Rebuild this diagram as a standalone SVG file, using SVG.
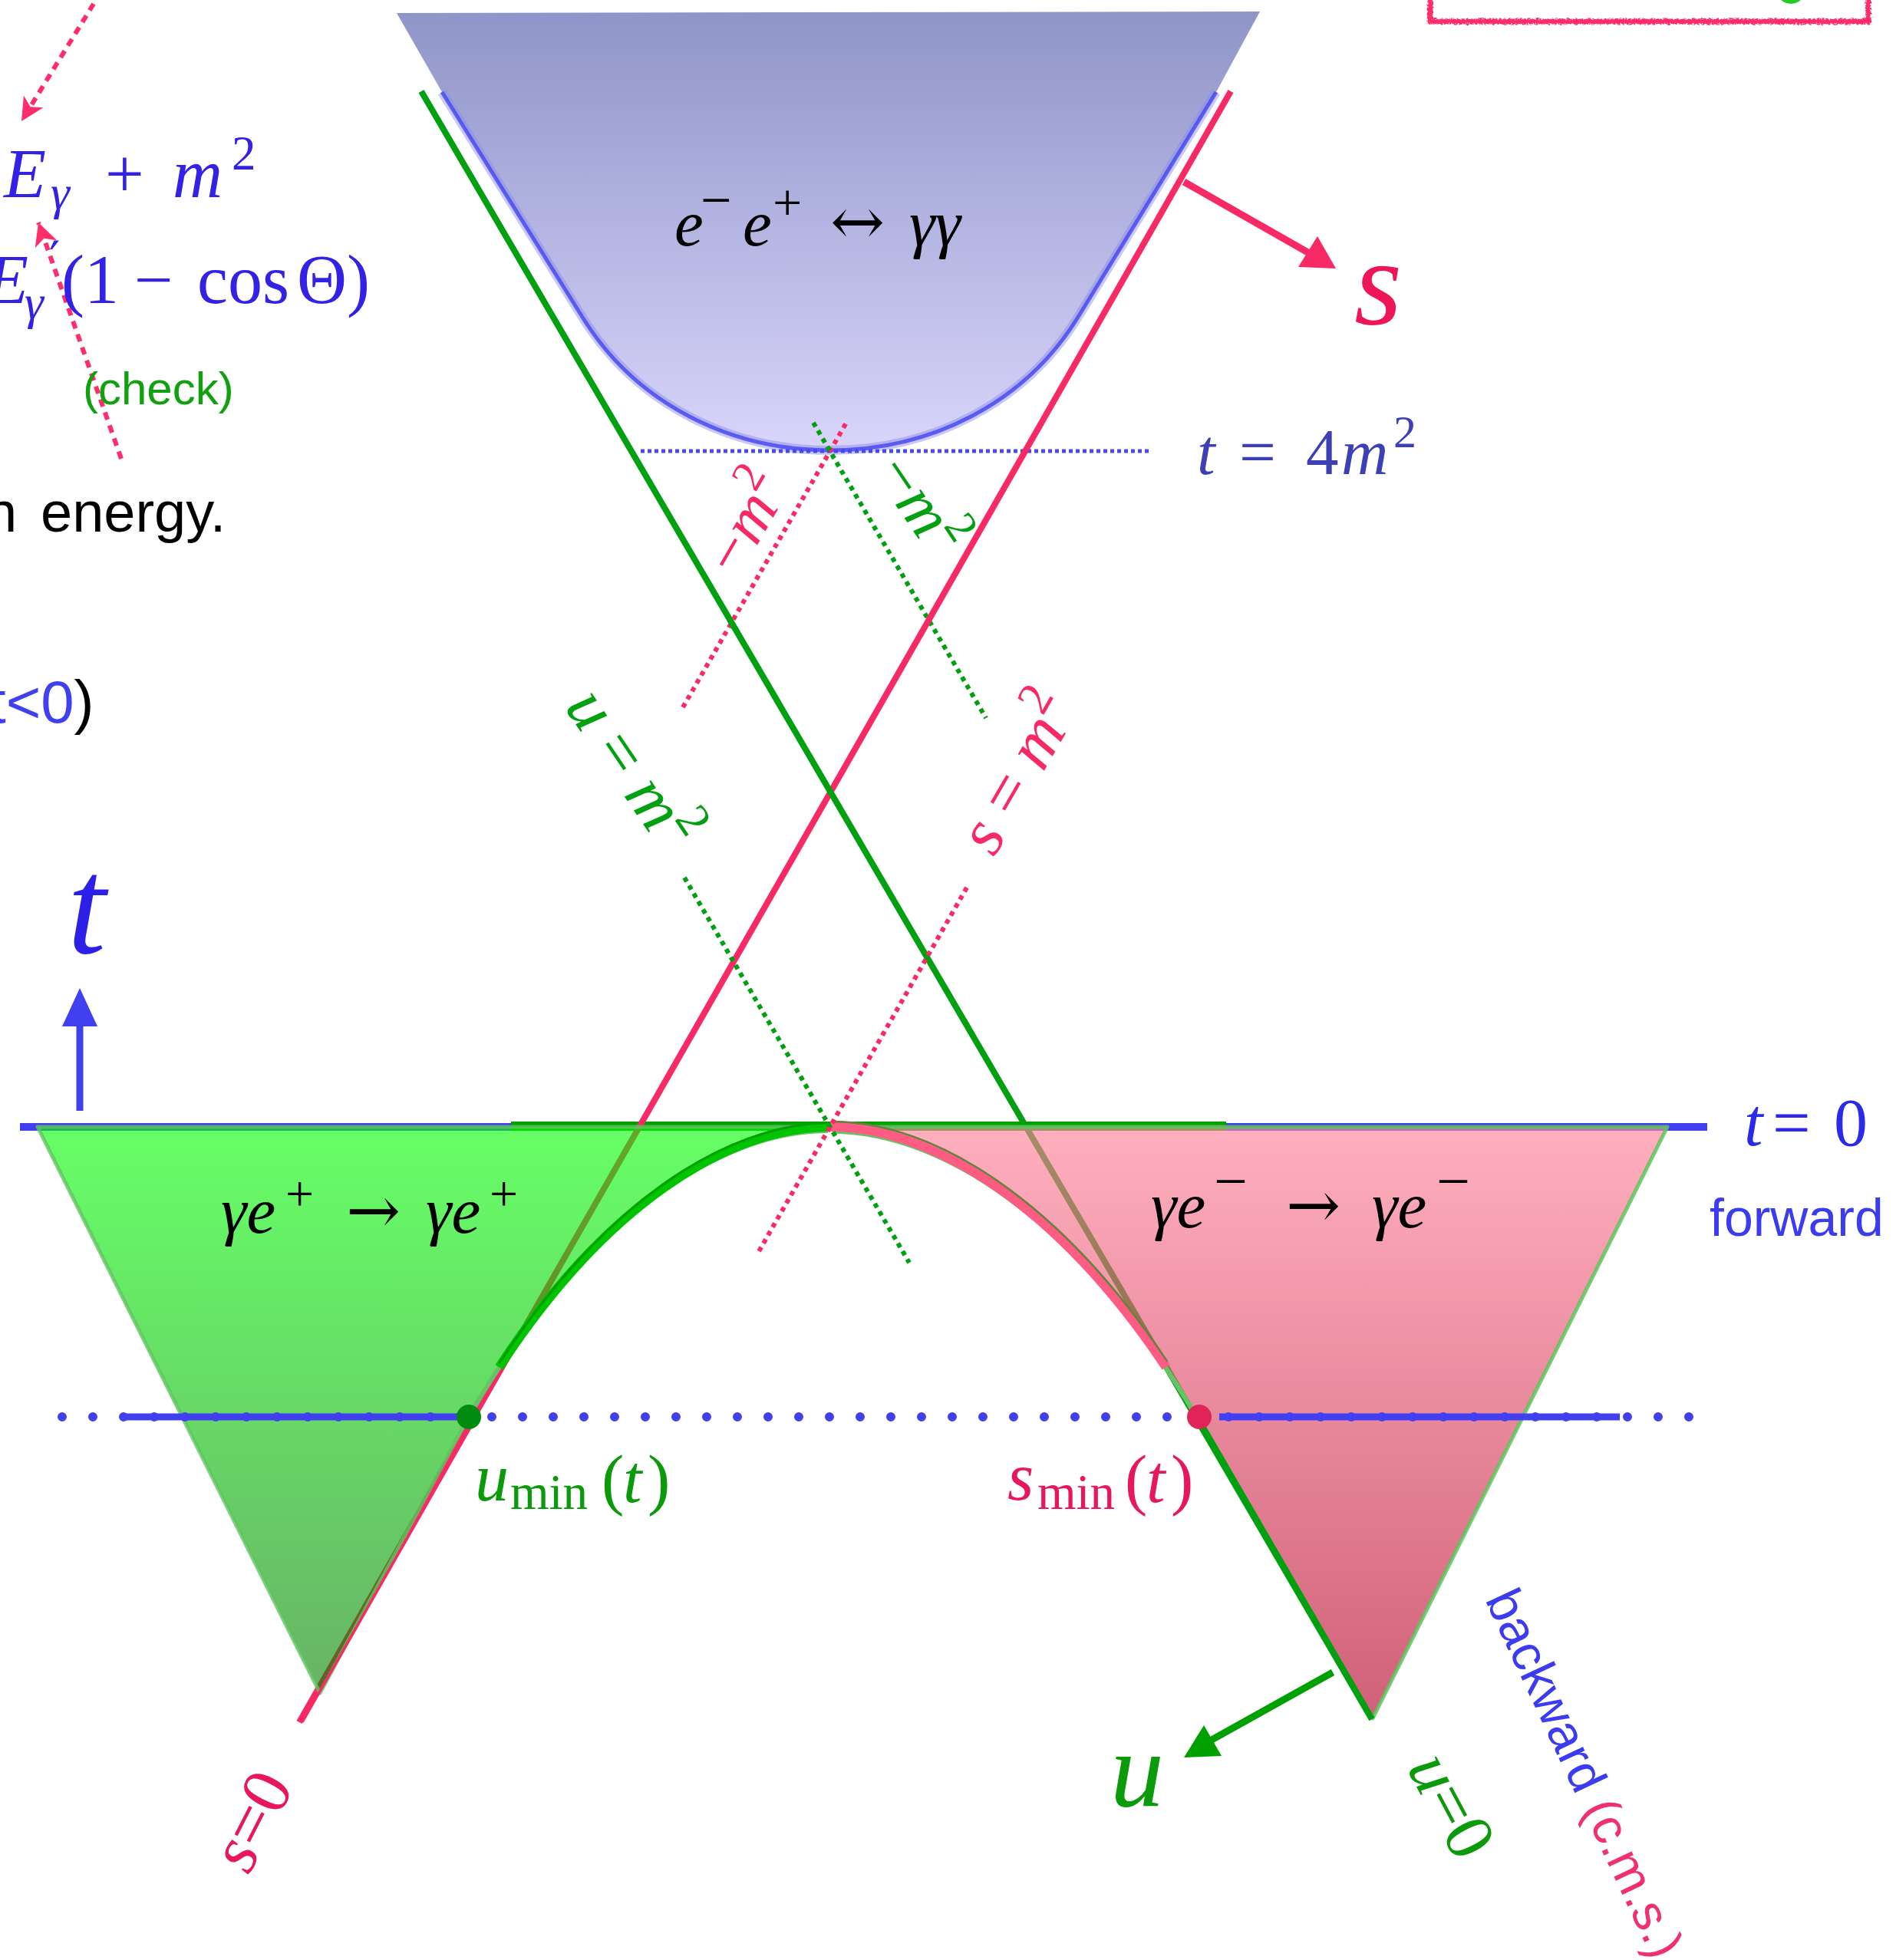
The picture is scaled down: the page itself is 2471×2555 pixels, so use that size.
<svg xmlns="http://www.w3.org/2000/svg" width="2471" height="2555" viewBox="0 0 2471 2555">
<defs>
<style>
.m{font-family:"Liberation Serif","DejaVu Serif",serif;font-style:italic}
.r{font-style:normal}
.ar{font-family:"DejaVu Serif","Liberation Serif",serif;font-style:normal}
.sans{font-family:"Liberation Sans",Arial,sans-serif}
.redl{stroke:#f72a66;fill:none}
.grnl{stroke:#00a010;fill:none}
.rdot{stroke:#f72a66;stroke-width:6;stroke-dasharray:6 6;fill:none}
.gdot{stroke:#00a010;stroke-width:6;stroke-dasharray:6 6;fill:none}
</style>
<linearGradient id="gBlue" gradientUnits="userSpaceOnUse" x1="0" y1="15" x2="0" y2="587">
<stop offset="0" stop-color="#8f95c8"/><stop offset="1" stop-color="#d9d5fb"/>
</linearGradient>
<linearGradient id="gGreen" gradientUnits="userSpaceOnUse" x1="0" y1="1469" x2="0" y2="2207">
<stop offset="0" stop-color="#00ff00"/><stop offset="1" stop-color="#038000"/>
</linearGradient>
<linearGradient id="gPink" gradientUnits="userSpaceOnUse" x1="0" y1="1469" x2="0" y2="2240">
<stop offset="0" stop-color="#ff849b"/><stop offset="1" stop-color="#b70b30"/>
</linearGradient>
<marker id="rarr" markerUnits="userSpaceOnUse" markerWidth="34" markerHeight="30" refX="30" refY="15" orient="auto">
<path d="M0,0 L30,15 L0,30 L8,15 Z" fill="#ff2d6b"/>
</marker>
<filter id="rough" x="-5%" y="-60%" width="110%" height="220%">
<feTurbulence type="fractalNoise" baseFrequency="0.35" numOctaves="2" seed="3" result="n"/>
<feDisplacementMap in="SourceGraphic" in2="n" scale="6" xChannelSelector="R" yChannelSelector="G"/>
</filter>
</defs>
<rect width="2471" height="2555" fill="#ffffff"/>

<g id="note-box">
<circle cx="2334" cy="-14" r="19" fill="#22cc22"/>
<rect x="1864" y="-20" width="571" height="48" fill="none" stroke="#ff2d6b" stroke-width="7" filter="url(#rough)"/>
</g>

<g id="region-annihilation">
<path d="M517,17 L1642,15 L1585,120 L1404,415 C1334,527 1212,587 1082,587 C952,587 830,527 760,415 L576,120 Z" fill="url(#gBlue)"/>
<path d="M576,120 L760,415 C830,527 952,587 1082,587 C1212,587 1334,527 1404,415 L1585,120" fill="none" stroke="#8888f0" stroke-width="12" stroke-opacity="0.45"/>
<path d="M576,120 L760,415 C830,527 952,587 1082,587 C1212,587 1334,527 1404,415 L1585,120" fill="none" stroke="#4a4af0" stroke-width="5" stroke-opacity="0.85"/>
</g>

<g id="connectors">
<line x1="835" y1="588" x2="1501" y2="588" stroke="#4848f0" stroke-width="5" stroke-dasharray="5 4"/>
<line class="rdot" x1="890" y1="922" x2="1103" y2="551"/>
<line class="gdot" x1="1060" y1="551" x2="1285" y2="936"/>
<line x1="26" y1="1469" x2="2225" y2="1469" stroke="#4040f0" stroke-width="10"/>
<line x1="666" y1="1468" x2="1598" y2="1468" stroke="#00a000" stroke-width="12"/>
<line class="redl" x1="1604" y1="119" x2="390" y2="2245" stroke-width="8"/>
<line class="grnl" x1="549" y1="119" x2="1788" y2="2241" stroke-width="8"/>
</g>

<g id="region-compton-positron">
<path d="M49,1469 L1082,1469 C932,1469 754,1597 611,1847 L417,2207 Z" fill="url(#gGreen)" fill-opacity="0.6" stroke="#5ec45e" stroke-width="5" stroke-opacity="0.8" stroke-linejoin="round"/>
</g>
<g id="region-compton-electron">
<path d="M1082,1469 L2173,1469 L1789,2240 L1560,1847 C1414,1597 1232,1469 1082,1469 Z" fill="url(#gPink)" fill-opacity="0.65" stroke="#5ec45e" stroke-width="5" stroke-opacity="0.85" stroke-linejoin="round"/>
</g>

<g id="boundaries">
<path d="M1079,1474 C929,1474 751,1602 608,1852" fill="none" stroke="#66c466" stroke-width="6"/>
<path d="M1082,1469 C932,1469 754,1597 611,1847" pathLength="100" stroke-dasharray="88 200" fill="none" stroke="#00c400" stroke-width="12"/>
<path d="M1082,1464 C932,1464 754,1592 611,1842" pathLength="100" stroke-dasharray="88 200" fill="none" stroke="#00a000" stroke-width="3"/>
<path d="M1085,1475 C1235,1475 1417,1603 1563,1853" fill="none" stroke="#66c466" stroke-width="6"/>
<path d="M1082,1469 C1232,1469 1414,1597 1560,1847" pathLength="100" stroke-dasharray="88 200" fill="none" stroke="#ff5c84" stroke-width="12"/>
<path d="M1084,1462 C1234,1462 1416,1590 1562,1840" pathLength="100" stroke-dasharray="88 200" fill="none" stroke="#6a8040" stroke-width="2.5"/>
<line class="grnl" x1="1560" y1="1847" x2="1788" y2="2241" stroke-width="8"/>
<line class="redl" x1="621" y1="1847" x2="394" y2="2245" stroke-width="3.5"/>
<line class="gdot" x1="892" y1="1144" x2="1185" y2="1646"/>
<line class="rdot" x1="1260" y1="1157" x2="988" y2="1633"/>
</g>

<g id="t-slice">
<line x1="81" y1="1847" x2="2204" y2="1847" stroke="#4040f0" stroke-width="12" stroke-linecap="round" stroke-dasharray="0 40"/>
<line x1="158" y1="1847" x2="607" y2="1847" stroke="#4040f0" stroke-width="9"/>
<line x1="1589" y1="1847" x2="2111" y2="1847" stroke="#4040f0" stroke-width="9"/>
<circle id="u-min" cx="611" cy="1847" r="16" fill="#008c10"/>
<circle id="s-min" cx="1563" cy="1847" r="16" fill="#e0245a"/>
</g>

<g id="arrows">
<line x1="104" y1="1448" x2="104" y2="1330" stroke="#4040f0" stroke-width="9"/>
<polygon points="104,1288 81,1338 127,1338" fill="#4040f0"/>
<line x1="1543" y1="237" x2="1708" y2="331" stroke="#f72a66" stroke-width="9"/>
<polygon points="1741,350 1692,348 1717,308" fill="#f72a66"/>
<line x1="1737" y1="2180" x2="1572" y2="2272" stroke="#00a000" stroke-width="9"/>
<polygon points="1543,2291 1569,2249 1592,2289" fill="#00a000"/>
<line x1="122" y1="5" x2="28" y2="158" stroke="#ff2d6b" stroke-width="6" stroke-dasharray="10 8" marker-end="url(#rarr)"/>
<line x1="158" y1="598" x2="50" y2="290" stroke="#ff2d6b" stroke-width="6" stroke-dasharray="10 8" marker-end="url(#rarr)"/>
</g>

<g id="labels">
<text class="m" font-size="85" fill="#000">
<tspan x="879" y="320">e</tspan><tspan class="r" x="913" y="285" font-size="72">−</tspan><tspan x="968" y="320">e</tspan><tspan class="r" x="1007" y="287" font-size="68">+</tspan><tspan class="ar" x="1082" y="318">↔</tspan><tspan x="1185" y="320">γγ</tspan>
</text>
<text class="m" font-size="85" fill="#000">
<tspan x="288" y="1607">γe</tspan><tspan class="r" x="372" y="1578" font-size="66">+</tspan><tspan class="ar" x="451" y="1607">→</tspan><tspan x="555" y="1607">γe</tspan><tspan class="r" x="638" y="1578" font-size="66">+</tspan>
</text>
<text class="m" font-size="85" fill="#000">
<tspan x="1500" y="1600">γe</tspan><tspan class="r" x="1582" y="1566" font-size="78">−</tspan><tspan class="ar" x="1676" y="1600">→</tspan><tspan x="1788" y="1600">γe</tspan><tspan class="r" x="1872" y="1566" font-size="78">−</tspan>
</text>
<text class="m" font-size="85" fill="#3d40b5">
<tspan x="1560" y="618">t</tspan><tspan class="r" x="1615" y="618">=</tspan><tspan class="r" x="1702" y="618">4</tspan><tspan x="1748" y="618">m</tspan><tspan class="r" x="1816" y="583" font-size="60">2</tspan>
</text>
<text class="m" font-size="88" fill="#2a2ae8">
<tspan x="2273" y="1493">t</tspan><tspan class="r" x="2310" y="1493">=</tspan><tspan class="r" x="2390" y="1493">0</tspan>
</text>
<text class="sans" font-size="68" fill="#3b3bef" x="2228" y="1611">forward</text>
<text class="sans" font-size="66" transform="translate(1935,2085) rotate(65)"><tspan fill="#3b3bef">backward </tspan><tspan fill="#f03070">(c.m.s.)</tspan></text>
<text class="m" font-size="88" fill="#0a9a0a">
<tspan x="619" y="1956">u</tspan><tspan class="r" x="665" y="1967" font-size="65">min</tspan><tspan class="r" x="784" y="1958">(</tspan><tspan x="812" y="1958">t</tspan><tspan class="r" x="844" y="1958">)</tspan>
</text>
<text class="m" font-size="88" fill="#e8175d">
<tspan x="1313" y="1955">s</tspan><tspan class="r" x="1352" y="1967" font-size="65">min</tspan><tspan class="r" x="1466" y="1958">(</tspan><tspan x="1494" y="1958">t</tspan><tspan class="r" x="1526" y="1958">)</tspan>
</text>
<text class="m" font-size="160" fill="#ee1558" x="1765" y="422">s</text>
<text class="m" font-size="180" fill="#2b1fe8" x="88" y="1242">t</text>
<text class="m" font-size="140" fill="#0a9a0a" x="1447" y="2354">u</text>
<text class="m" font-size="84" fill="#f72a66" text-anchor="middle" transform="translate(996,695) rotate(-60)"><tspan class="r">−</tspan>m<tspan class="r" font-size="58" dy="-36">2</tspan></text>
<text class="m" font-size="84" fill="#00a010" text-anchor="middle" transform="translate(1177,673) rotate(56)"><tspan class="r">−</tspan>m<tspan class="r" font-size="58" dy="-36">2</tspan></text>
<text class="m" font-size="88" fill="#00a010" text-anchor="middle" transform="translate(800,1018) rotate(56)">u <tspan class="r">=</tspan> m<tspan class="r" font-size="62" dy="-37">2</tspan></text>
<text class="m" font-size="88" fill="#f72a66" text-anchor="middle" transform="translate(1351,1022) rotate(-60)">s <tspan class="r">=</tspan> m<tspan class="r" font-size="62" dy="-37">2</tspan></text>
<text class="m" font-size="90" fill="#e8175d" text-anchor="middle" transform="translate(354,2387) rotate(-63)">s<tspan class="r">=0</tspan></text>
<text class="m" font-size="90" fill="#0a9a0a" text-anchor="middle" transform="translate(1866,2367) rotate(62)">u<tspan class="r">=0</tspan></text>
</g>

<g id="side-notes">
<text class="m" font-size="90" fill="#3322e6">
<tspan x="5" y="257">E</tspan><tspan x="66" y="272" font-size="63">γ</tspan><tspan class="r" x="137" y="257">+</tspan><tspan x="225" y="257">m</tspan><tspan class="r" x="302" y="221" font-size="63">2</tspan>
</text>
<text class="m" font-size="90" fill="#3322e6">
<tspan x="-18" y="395">E</tspan><tspan class="ar" x="64" y="360" font-size="63">′</tspan><tspan x="32" y="415" font-size="63">γ</tspan><tspan class="r" x="80" y="395">(1</tspan><tspan class="r" x="175" y="395">−</tspan><tspan class="r" x="257" y="395">cos</tspan><tspan class="r" x="387" y="395">Θ)</tspan>
</text>
<text class="sans" font-size="60" fill="#10a010" x="108" y="527">(check)</text>
<text class="sans" font-size="74" fill="#000"><tspan x="-19" y="693">n</tspan><tspan x="53" y="693">energy.</tspan></text>
<text class="sans" font-size="78" x="-14" y="942"><tspan fill="#4040f0">t&lt;0</tspan><tspan fill="#000">)</tspan></text>
</g>
</svg>
